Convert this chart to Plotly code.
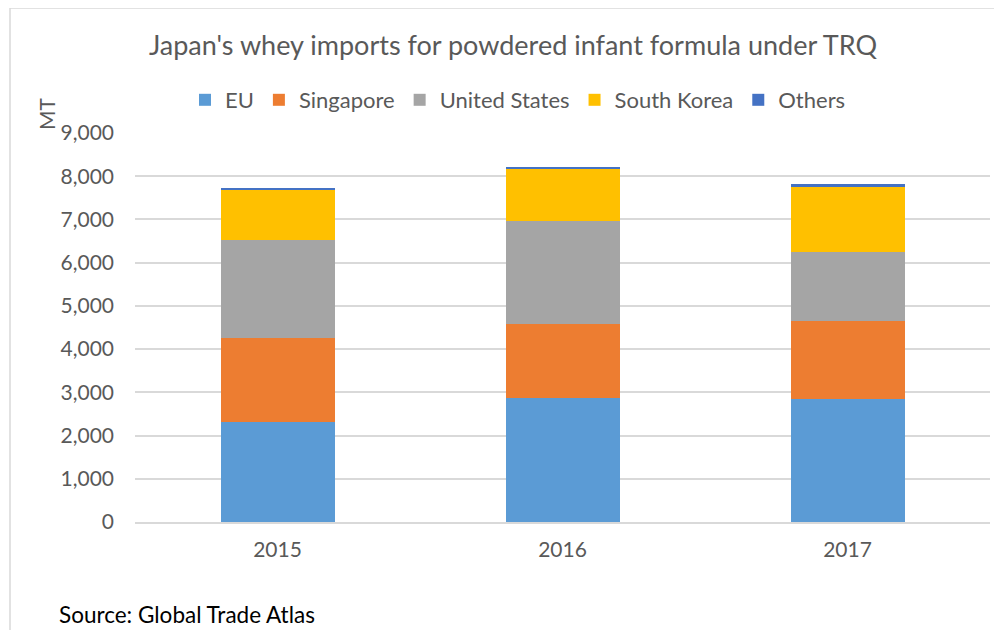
import plotly.graph_objects as go

years = ["2015", "2016", "2017"]
eu = [2320, 2880, 2850]
singapore = [1937, 1700, 1800]
united_states = [2258, 2384, 1603]
south_korea = [1180, 1217, 1511]
others = [33, 40, 46]

series = [
    ("EU", eu, "#5B9BD5"),
    ("Singapore", singapore, "#ED7D31"),
    ("United States", united_states, "#A5A5A5"),
    ("South Korea", south_korea, "#FFC000"),
    ("Others", others, "#4472C4"),
]

FONT = "Lato"
OFF = 8  # page body margin offset
fig = go.Figure()
for name, vals, col in series:
    fig.add_trace(go.Bar(name=name, x=years, y=vals, marker=dict(color=col, line=dict(width=0))))

W, H = 1002, 630
L, T = 135 - OFF, 133 - OFF
R = W - (990 - OFF)
B = H - (522 - OFF)
pw, ph = W - L - R, H - T - B


def px(x):
    return (x - OFF - L) / pw


def py(y):
    return 1 + (T - (y - OFF)) / ph


fig.update_layout(
    width=W, height=H,
    barmode="stack", bargap=0.6,
    margin=dict(l=L, r=R, t=T, b=B),
    plot_bgcolor="white", paper_bgcolor="white",
    font=dict(family=FONT, color="#595959"),
    title=dict(text="Japan's whey imports for powdered infant formula under TRQ",
               x=(513 - OFF) / W, xanchor="center", y=1 - (46 - OFF) / H, yanchor="middle",
               font=dict(size=27, color="#595959", family=FONT)),
    legend=dict(orientation="h", x=px(518), xanchor="center",
                y=py(100), yanchor="middle",
                font=dict(size=22, color="#595959"), traceorder="normal",
                itemwidth=30, tracegroupgap=0),
    xaxis=dict(showgrid=False, showline=True, linecolor="#d9d9d9", linewidth=1.5,
               tickfont=dict(size=21, color="#595959"), ticks="", ticklabelstandoff=8),
    yaxis=dict(range=[0, 9000], dtick=1000, tickformat=",d", showgrid=True,
               gridcolor="#d9d9d9", gridwidth=1.5, zeroline=False, showline=False,
               tickfont=dict(size=21, color="#595959"), ticks="", ticklabelstandoff=20),
    annotations=[
        dict(text="MT", textangle=-90, xref="paper", yref="paper",
             x=px(46), y=py(114), showarrow=False,
             font=dict(size=21, color="#595959"), xanchor="center", yanchor="middle"),
        dict(text="Source: Global Trade Atlas", xref="paper", yref="paper",
             x=px(57), y=py(614), showarrow=False,
             font=dict(size=22.5, color="#000000"), xanchor="left", yanchor="middle"),
    ],
    shapes=[
        dict(type="line", xref="paper", yref="paper",
             x0=px(10), x1=px(10), y0=py(8), y1=py(660),
             line=dict(color="#d9d9d9", width=1.5)),
        dict(type="line", xref="paper", yref="paper",
             x0=px(10), x1=px(1030), y0=py(8), y1=py(8),
             line=dict(color="#d9d9d9", width=1.5)),
    ],
)

fig.write_html("out.html")
